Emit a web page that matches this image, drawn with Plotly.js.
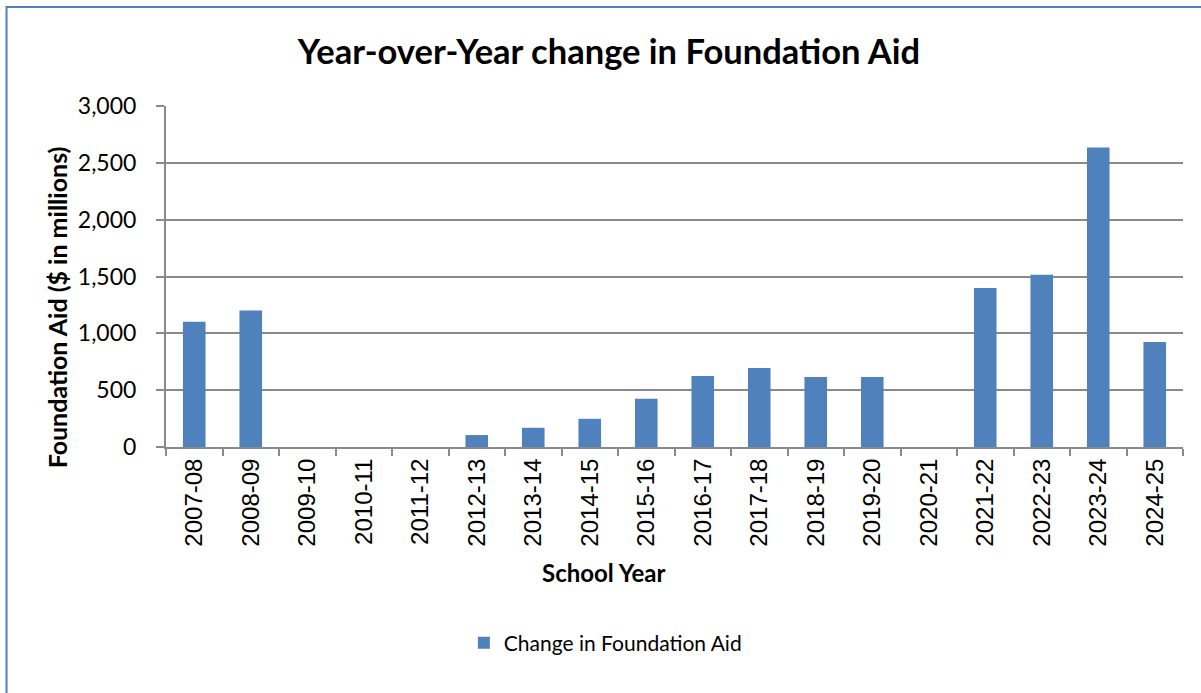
<!DOCTYPE html>
<html>
<head>
<meta charset="utf-8">
<script src="https://cdn.plot.ly/plotly-3.0.1.min.js"></script>
<style>
  html, body { margin: 0; padding: 0; background: #fff; overflow: hidden; }
  #chart { width: 1201px; height: 693px; }
</style>
</head>
<body>
<div id="chart"></div>
<script>
const schoolYears = ["2007-08","2008-09","2009-10","2010-11","2011-12","2012-13","2013-14","2014-15","2015-16","2016-17","2017-18","2018-19","2019-20","2020-21","2021-22","2022-23","2023-24","2024-25"];
const changeInFoundationAid = [1103, 1200, 0, 0, 0, 105, 169, 248, 424, 625, 696, 616, 616, 0, 1398, 1515, 2635, 923];
const yTickValues = [0, 500, 1000, 1500, 2000, 2500, 3000];

const gridColor = "#8a8a8a";

const trace = {
  type: "bar",
  x: schoolYears,
  y: changeInFoundationAid,
  name: "Change in Foundation Aid",
  marker: { color: "#4f81bd", line: { width: 0 } },
  hoverinfo: "x+y"
};

const layout = {
  width: 1201,
  height: 693,
  margin: { l: 166, r: 18, t: 106, b: 246, pad: 0 },
  paper_bgcolor: "#ffffff",
  plot_bgcolor: "#ffffff",
  bargap: 0.6,
  showlegend: true,
  title: {
    text: "<b>Year-over-Year change in Foundation Aid</b>",
    font: { family: "Lato, 'Open Sans', sans-serif", size: 34.5, color: "#000" },
    x: 0.507, xanchor: "center", xref: "container",
    y: 0.925, yanchor: "middle", yref: "container"
  },
  xaxis: {
    type: "category",
    tickangle: -90,
    tickfont: { family: "'Liberation Sans', Arial, sans-serif", size: 24, color: "#000" },
    showline: true, linecolor: gridColor, linewidth: 2,
    ticks: "outside", tickson: "boundaries", ticklen: 7, tickwidth: 2, tickcolor: gridColor,
    ticklabelstandoff: 0,
    showgrid: false, zeroline: false,
    fixedrange: true
  },
  yaxis: {
    range: [0, 3000],
    tickvals: yTickValues,
    tickformat: ",d",
    tickfont: { family: "Lato, 'Open Sans', sans-serif", size: 23, color: "#000" },
    showline: true, linecolor: gridColor, linewidth: 2,
    ticks: "outside", ticklen: 8, tickwidth: 2, tickcolor: gridColor,
    ticklabelstandoff: 15,
    showgrid: true, gridcolor: gridColor, gridwidth: 2,
    zeroline: false,
    fixedrange: true
  },
  legend: {
    orientation: "h",
    x: 0.432, xanchor: "center", xref: "paper",
    y: -0.575, yanchor: "middle", yref: "paper",
    font: { family: "Lato, 'Open Sans', sans-serif", size: 21, color: "#000" },
    itemwidth: 30
  },
  annotations: [
    {
      text: "<b>Foundation Aid ($ in millions)</b>",
      xref: "paper", yref: "paper",
      x: -0.107, y: 0.41,
      xanchor: "center", yanchor: "middle",
      textangle: -90, showarrow: false,
      font: { family: "Lato, 'Open Sans', sans-serif", size: 25, color: "#000" }
    },
    {
      text: "<b>School Year</b>",
      xref: "paper", yref: "paper",
      x: 0.4297, y: -0.3695,
      xanchor: "center", yanchor: "middle",
      showarrow: false,
      font: { family: "Lato, 'Open Sans', sans-serif", size: 24, color: "#000" }
    }
  ],
  shapes: [
    {
      type: "rect", xref: "paper", yref: "paper",
      x0: -0.1568, x1: 1.5, y0: -2, y1: 1.2903,
      line: { color: "#4f81bd", width: 2 },
      fillcolor: "rgba(0,0,0,0)",
      layer: "below"
    }
  ]
};

Plotly.newPlot("chart", [trace], layout, { displayModeBar: false, staticPlot: true });
</script>
</body>
</html>
